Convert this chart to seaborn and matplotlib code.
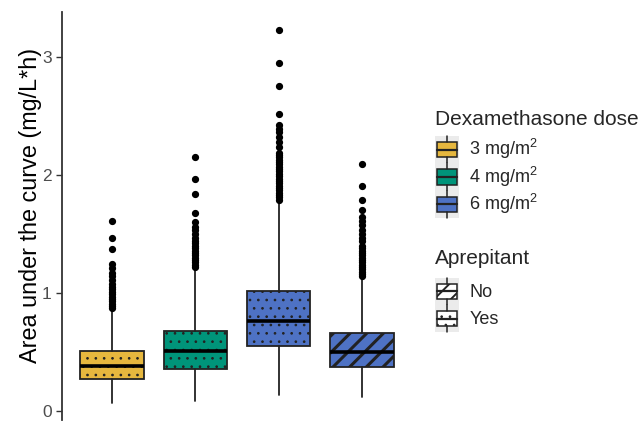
import matplotlib
matplotlib.use("Agg")
import matplotlib.pyplot as plt
import matplotlib.patches as mpatches
from matplotlib.lines import Line2D
from matplotlib.patches import Rectangle
from matplotlib.legend_handler import HandlerBase
import seaborn as sns

sns.set_theme(style="ticks")
plt.rcParams["font.family"] = ["Liberation Sans", "DejaVu Sans"]
plt.rcParams["hatch.color"] = "#333333"

# Box summary values
DOSES = ["3 mg/m$\\mathregular{^2}$", "4 mg/m$\\mathregular{^2}$", "6 mg/m$\\mathregular{^2}$"]
BOX_DOSE = [0, 1, 2, 2]
BOX_APREPITANT = ["Yes", "Yes", "Yes", "No"]
WHISLO = [0.07, 0.085, 0.135, 0.12]
Q1 = [0.27, 0.36, 0.55, 0.37]
MEDIAN = [0.38, 0.51, 0.76, 0.50]
Q3 = [0.51, 0.68, 1.02, 0.66]
WHISHI = [0.86, 1.21, 1.78, 1.12]
OUTLIERS = [
    [0.87, 0.89, 0.91, 0.93, 0.95, 0.97, 0.99, 1.01, 1.03, 1.05, 1.08, 1.11,
     1.14, 1.17, 1.21, 1.25, 1.37, 1.47, 1.61],
    [1.22, 1.24, 1.26, 1.28, 1.30, 1.32, 1.34, 1.36, 1.38, 1.40, 1.42, 1.44,
     1.47, 1.50, 1.53, 1.56, 1.60, 1.68, 1.84, 1.97, 2.15],
    [1.79, 1.81, 1.83, 1.85, 1.87, 1.89, 1.91, 1.93, 1.95, 1.97, 1.99, 2.01,
     2.03, 2.05, 2.07, 2.09, 2.11, 2.13, 2.15, 2.17, 2.19, 2.24, 2.28, 2.32,
     2.36, 2.39, 2.42, 2.52, 2.75, 2.95, 3.23],
    [1.14, 1.16, 1.18, 1.20, 1.22, 1.24, 1.26, 1.28, 1.30, 1.32, 1.34, 1.36,
     1.38, 1.40, 1.44, 1.47, 1.50, 1.53, 1.58, 1.61, 1.64, 1.70, 1.79, 1.91,
     2.09],
]

DOSE_COLORS = ["#E6B73E", "#00947A", "#4E72C4"]
HATCHES = {"No": "//", "Yes": ".."}
HATCH_LW = {"No": 2.2, "Yes": 0.7}
EDGE = "#222222"


def style_hatch(patch, kind):
    patch.set_hatch(HATCHES[kind])
    if hasattr(patch, "set_hatch_linewidth"):
        patch.set_hatch_linewidth(HATCH_LW[kind])


class BoxKey(HandlerBase):
    """Draw a small boxplot glyph on a grey key, like ggplot legends."""

    def __init__(self, kinds=None):
        super().__init__()
        self.kinds = kinds or {}

    def create_artists(self, legend, orig_handle, xdescent, ydescent,
                       width, height, fontsize, trans):
        x0, y0 = -xdescent, -ydescent
        cx = x0 + width / 2
        bg = Rectangle((x0, y0), width, height, facecolor="#EBEBEB",
                       edgecolor="none", transform=trans)
        box = Rectangle((x0 + 0.1 * width, y0 + 0.22 * height), 0.8 * width,
                        0.56 * height, facecolor=orig_handle.get_facecolor(),
                        edgecolor=EDGE, lw=1.1, transform=trans)
        kind = self.kinds.get(id(orig_handle))
        if kind:
            style_hatch(box, kind)
            if kind == "No" and hasattr(box, "set_hatch_linewidth"):
                box.set_hatch_linewidth(1.4)
        med = Line2D([x0 + 0.1 * width, x0 + 0.9 * width],
                     [y0 + height / 2] * 2, color=EDGE, lw=1.6, transform=trans)
        w1 = Line2D([cx, cx], [y0, y0 + 0.22 * height], color=EDGE, lw=1.1,
                    transform=trans)
        w2 = Line2D([cx, cx], [y0 + 0.78 * height, y0 + height], color=EDGE,
                    lw=1.1, transform=trans)
        return [bg, box, med, w1, w2]


fig = plt.figure(figsize=(6.4, 4.21), dpi=100)
ax = fig.add_axes([62 / 640, 1 / 421, 350 / 640, 408 / 421])

stats = []
for i in range(len(Q1)):
    stats.append(dict(whislo=WHISLO[i], q1=Q1[i], med=MEDIAN[i], q3=Q3[i],
                      whishi=WHISHI[i], fliers=OUTLIERS[i]))

bp = ax.bxp(stats, positions=[1, 2, 3, 4], widths=0.76, patch_artist=True,
            showcaps=False,
            boxprops=dict(edgecolor=EDGE, linewidth=1.3),
            medianprops=dict(color="black", linewidth=2.6),
            whiskerprops=dict(color=EDGE, linewidth=1.3),
            flierprops=dict(marker="o", markerfacecolor="black",
                            markeredgecolor="black", markersize=4.2))
for box, d, a in zip(bp["boxes"], BOX_DOSE, BOX_APREPITANT):
    box.set_facecolor(DOSE_COLORS[d])
    style_hatch(box, a)

ax.set_xlim(0.4, 4.6)
ax.set_ylim(-0.076, 3.381)
ax.set_yticks([0, 1, 2, 3])
ax.set_xticks([])
ax.set_ylabel("Area under the curve (mg/L*h)", fontsize=16.8, color="black")
ax.yaxis.set_label_coords(-0.057, 0.527)
ax.tick_params(axis="y", labelsize=12.5, labelcolor="#4D4D4D", color="#333333",
               length=4, width=1)
sns.despine(ax=ax, bottom=True)
ax.spines["left"].set_color("#333333")
ax.spines["left"].set_linewidth(1.3)

legend_kw = dict(loc="upper left", frameon=False, fontsize=13,
                 title_fontsize=15, alignment="left", borderpad=0,
                 borderaxespad=0, labelspacing=0, handlelength=1.35,
                 handleheight=1.95, handletextpad=0.55)

dose_handles = [mpatches.Patch(facecolor=c) for c in DOSE_COLORS]
leg1 = fig.legend(dose_handles, DOSES, title="Dexamethasone dose",
                  bbox_to_anchor=(435 / 640, 1 - 110 / 421),
                  handler_map={mpatches.Patch: BoxKey()}, **legend_kw)
leg1._legend_box.sep = 5  # gap between title and keys (points)

apr_keys = ["No", "Yes"]
apr_handles = [mpatches.Patch(facecolor="white") for _ in apr_keys]
kinds = {id(h): k for h, k in zip(apr_handles, apr_keys)}
leg2 = fig.legend(apr_handles, apr_keys, title="Aprepitant",
                  bbox_to_anchor=(435 / 640, 1 - 249 / 421),
                  handler_map={mpatches.Patch: BoxKey(kinds)}, **legend_kw)
leg2._legend_box.sep = 7

fig.savefig("out.png", dpi=100)
